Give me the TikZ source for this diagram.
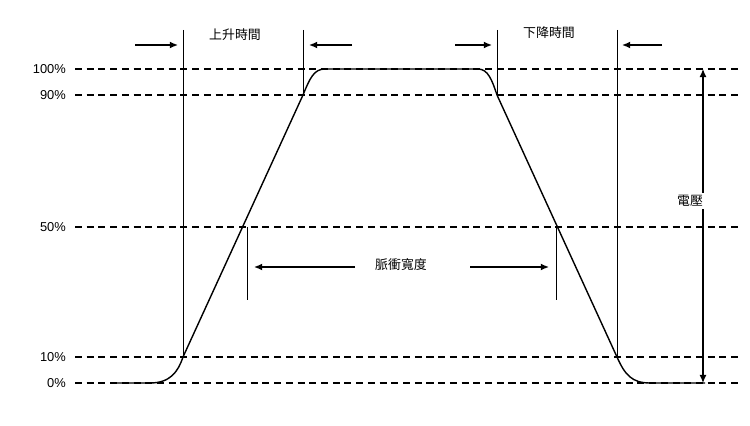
\documentclass[tikz,border=0pt]{standalone}
\usepackage{fontspec}
\setmainfont{Liberation Sans}
\newfontfamily\cjk{Noto Sans CJK TC}
\usetikzlibrary{arrows.meta,calc}
\tikzset{>={Latex[length=7pt,width=6pt]}}
\tikzset{
  level/.style={dashed,line width=0.9pt,dash pattern=on 6pt off 4pt},
  mark line/.style={line width=0.8pt},
  wave/.style={line width=1.2pt},
  pct/.style={anchor=east,font=\fontsize{11}{12}\selectfont},
  caption/.style={fill=white,inner sep=2pt,font=\cjk\fontsize{11}{12}\selectfont}
}
\begin{document}
\begin{tikzpicture}[x=0.03cm,y=-0.03cm]
  \useasboundingbox (0,0) rectangle (750,426);
  % levels
  \foreach \name/\yy in {0/383,10/357,50/227,90/95,100/69}{
    \coordinate (L\name) at (75,\yy);
    \coordinate (R\name) at (740,\yy);
    \node[pct] (P\name) at (70,\yy) {\name\%};
    \draw[level] (L\name) -- (R\name);
  }
  % pulse
  \draw[wave] (115,383) -- (150,383) .. controls (170,383) and (178,372) .. (183,357)
    -- (303,95) .. controls (310,78) and (314,69) .. (325,69) -- (478,69)
    .. controls (488,69) and (492,80) .. (497,95) -- (617,357)
    .. controls (625,375) and (632,383) .. (650,383) -- (705,383);
  % rise / fall time markers
  \coordinate (RiseA) at (183,30);  \coordinate (RiseB) at (183,357);
  \coordinate (RiseC) at (303,30);  \coordinate (RiseD) at (303,95);
  \coordinate (FallA) at (497,30);  \coordinate (FallB) at (497,95);
  \coordinate (FallC) at (617,30);  \coordinate (FallD) at (617,357);
  \draw[mark line] (RiseA) -- (RiseB);
  \draw[mark line] (RiseC) -- (RiseD);
  \draw[mark line] (FallA) -- (FallB);
  \draw[mark line] (FallC) -- (FallD);
  \node[caption] (Rise) at (235,35) {上升時間};
  \node[caption] (Fall) at (549,33) {下降時間};
  \coordinate (ra1) at (135,45); \coordinate (ra2) at (178,45);
  \coordinate (ra3) at (352,45); \coordinate (ra4) at (309,45);
  \coordinate (fa1) at (455,45); \coordinate (fa2) at (492,45);
  \coordinate (fa3) at (662,45); \coordinate (fa4) at (622,45);
  \draw[->,line width=1.2pt] (ra1) -- (ra2);
  \draw[->,line width=1.2pt] (ra3) -- (ra4);
  \draw[->,line width=1.2pt] (fa1) -- (fa2);
  \draw[->,line width=1.2pt] (fa3) -- (fa4);
  % pulse width
  \coordinate (WA) at (247,227); \coordinate (WB) at (247,300);
  \coordinate (WC) at (556,227); \coordinate (WD) at (556,300);
  \draw[mark line] (WA) -- (WB);
  \draw[mark line] (WC) -- (WD);
  \node[caption] (Width) at (401,265) {脈衝寬度};
  \coordinate (wa1) at (355,267); \coordinate (wa2) at (254,267);
  \coordinate (wa3) at (470,267); \coordinate (wa4) at (549,267);
  \draw[->,line width=1.2pt] (wa1) -- (wa2);
  \draw[->,line width=1.2pt] (wa3) -- (wa4);
  % voltage
  \coordinate (VA) at (703,69); \coordinate (VB) at (703,383);
  \draw[<->,line width=1pt] (VA) -- (VB);
  \node[caption] (Volt) at (690,201) {電壓};
\end{tikzpicture}
\end{document}
